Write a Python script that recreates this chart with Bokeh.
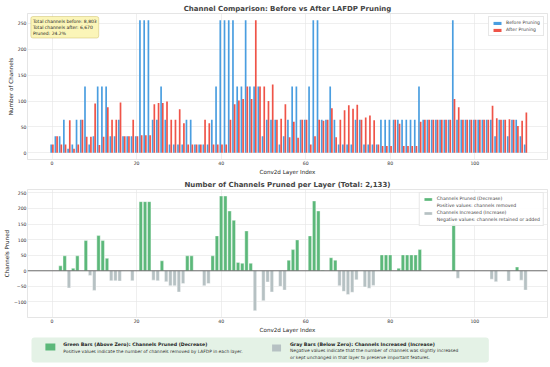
from bokeh.plotting import figure
from bokeh.layouts import column
from bokeh.models import (ColumnDataSource, Legend, LegendItem, Label, Span,
                          BoxAnnotation, FixedTicker, Range1d)
from bokeh.transform import dodge
from bokeh.embed import file_html
from bokeh.resources import INLINE
from bokeh.core.properties import value

# ---------------- data ----------------
layers = list(range(113))
before = [16, 32, 32, 64, 8, 16, 64, 64, 128, 16,
          32, 128, 128, 128, 32, 32, 64, 32, 32, 32,
          32, 256, 256, 256, 64, 64, 128, 64, 16, 16,
          16, 16, 64, 64, 16, 16, 16, 16, 64, 128,
          256, 256, 256, 256, 128, 128, 256, 128, 128, 128,
          32, 64, 64, 64, 16, 32, 64, 128, 128, 64,
          64, 128, 256, 256, 64, 64, 128, 64, 16, 16,
          16, 16, 64, 64, 16, 16, 16, 16, 64, 64,
          64, 64, 64, 64, 64, 64, 64, 128, 64, 64,
          64, 64, 64, 64, 64, 256, 64, 64, 64, 64,
          64, 64, 64, 64, 64, 32, 64, 64, 32, 64,
          64, 32, 16]
after = [16, 32, 16, 16, 63, 8, 16, 64, 31, 31,
         95, 15, 31, 88, 64, 64, 97, 32, 32, 64,
         32, 34, 34, 34, 94, 96, 96, 99, 64, 64,
         84, 57, 16, 16, 16, 16, 64, 57, 16, 16,
         16, 16, 64, 94, 101, 104, 128, 104, 256, 128,
         128, 100, 132, 64, 66, 94, 30, 60, 29, 64,
         64, 16, 32, 64, 62, 64, 86, 30, 64, 82,
         92, 85, 93, 64, 68, 72, 63, 16, 13, 13,
         13, 64, 56, 13, 13, 13, 13, 60, 64, 64,
         64, 64, 64, 64, 64, 104, 88, 64, 64, 64,
         64, 64, 64, 64, 91, 67, 64, 64, 65, 64,
         52, 62, 78]
x_ticks = [0, 20, 40, 60, 80, 100]
top_y_ticks = [0, 50, 100, 150, 200, 250]
bottom_y_ticks = [-100, -50, 0, 50, 100, 150, 200, 250]

summary_text = "Total channels before: 8,803\nTotal channels after: 6,670\nPruned: 24.2%"

pruned = [b - a for b, a in zip(before, after)]

# ---------------- style ----------------
FONT = "DejaVu Sans"
BLUE = "#4a9ee0"
RED = "#ef5448"
GREEN = "#5cb87a"
GRAY = "#b6c1c3"
W = 550


def style(p, xlabel, ylabel, yticks):
    p.title.align = "center"
    p.title.text_font = FONT
    p.title.text_font_size = "7px"
    p.title.text_font_style = "bold"
    p.title.standoff = 2
    p.xaxis.axis_label = xlabel
    p.yaxis.axis_label = ylabel
    p.xaxis.ticker = FixedTicker(ticks=x_ticks)
    p.yaxis.ticker = FixedTicker(ticks=yticks)
    for ax in p.xaxis + p.yaxis:
        ax.major_label_text_font = FONT
        ax.major_label_text_font_size = "4.6px"
        ax.major_label_text_color = "#333333"
        ax.axis_label_text_font = FONT
        ax.axis_label_text_font_size = "5.6px"
        ax.axis_label_text_font_style = "normal"
        ax.axis_label_text_color = "#222222"
        ax.major_tick_out = 0
        ax.major_tick_in = 0
        ax.minor_tick_out = 0
        ax.minor_tick_in = 0
        ax.major_label_standoff = 1
        ax.axis_label_standoff = 1
        ax.axis_line_color = None
    p.outline_line_color = "#d4d4d4"
    p.outline_line_width = 0.6
    p.grid.grid_line_color = "#e4e4e4"
    p.grid.grid_line_width = 0.6


# ---------------- top chart ----------------
p1 = figure(width=W, height=177, x_range=Range1d(-5.8, 117.2),
            y_range=Range1d(-12.8, 268.8), output_backend="svg",
            toolbar_location=None, min_border_left=24, min_border_right=3,
            min_border_top=13, min_border_bottom=14,
            title="Channel Comparison: Before vs After LAFDP Pruning")
style(p1, "Conv2d Layer Index", "Number of Channels", top_y_ticks)

src = ColumnDataSource(dict(layer=layers, before=before, after=after))
rb = p1.vbar(x=dodge("layer", -0.2), top="before", width=0.4, source=src,
             fill_color=BLUE, line_color=None)
rr = p1.vbar(x=dodge("layer", 0.2), top="after", width=0.4, source=src,
             fill_color=RED, line_color=None)

leg1 = Legend(items=[LegendItem(label="Before Pruning", renderers=[rb]),
                     LegendItem(label="After Pruning", renderers=[rr])],
              location="top_right", label_text_font=FONT,
              label_text_font_size="4.6px", glyph_width=10, glyph_height=4,
              label_height=5, spacing=2, padding=3, margin=3,
              label_standoff=4, border_line_color="#d0d0d0",
              border_line_width=0.5, background_fill_alpha=0.9)
p1.add_layout(leg1)

p1.add_layout(Label(x=-5.0, y=263, text=summary_text, anchor="top_left",
                    text_font=FONT, text_font_size="4.5px",
                    text_color="#222222", text_line_height=1.25,
                    background_fill_color="#fbf4b4", background_fill_alpha=0.95,
                    border_line_color="#cdbf6a", border_line_width=0.5,
                    padding=2, border_radius=2))

# ---------------- bottom chart ----------------
p2 = figure(width=W, height=158, x_range=Range1d(-5.8, 117.2),
            y_range=Range1d(-150, 261), output_backend="svg",
            toolbar_location=None, min_border_left=24, min_border_right=3,
            min_border_top=10, min_border_bottom=17,
            title="Number of Channels Pruned per Layer (Total: 2,133)")
style(p2, "Conv2d Layer Index", "Channels Pruned", bottom_y_ticks)

pos_idx = [i for i, d in enumerate(pruned) if d > 0]
neg_idx = [i for i, d in enumerate(pruned) if d < 0]
src_pos = ColumnDataSource(dict(layer=[layers[i] for i in pos_idx],
                                val=[pruned[i] for i in pos_idx]))
src_neg = ColumnDataSource(dict(layer=[layers[i] for i in neg_idx],
                                val=[pruned[i] for i in neg_idx]))
rg = p2.vbar(x="layer", top="val", bottom=0, width=0.8, source=src_pos,
             fill_color=GREEN, line_color="white", line_width=0.4)
rgy = p2.vbar(x="layer", top="val", bottom=0, width=0.8, source=src_neg,
              fill_color=GRAY, line_color="white", line_width=0.4)
p2.add_layout(Span(location=0, dimension="width", line_color="#4a4a4a",
                   line_width=0.8))

blank = p2.vbar(x=[], top=[], width=0.8, fill_alpha=0, line_alpha=0)
leg2 = Legend(items=[LegendItem(label="Channels Pruned (Decrease)", renderers=[rg]),
                     LegendItem(label="Positive values: channels removed", renderers=[blank]),
                     LegendItem(label="Channels Increased (Increase)", renderers=[rgy]),
                     LegendItem(label="Negative values: channels retained or added", renderers=[blank])],
              location="top_right", label_text_font=FONT,
              label_text_font_size="4.6px", glyph_width=10, glyph_height=4,
              label_height=5, spacing=2, padding=3, margin=3,
              label_standoff=4, border_line_color="#d0d0d0",
              border_line_width=0.5, background_fill_alpha=0.9)
p2.add_layout(leg2)

# ---------------- footer explanation ----------------
# footer frame is aligned with the chart frames (left border 24, right 3),
# so its x range is expressed in canvas pixels of that frame
p3 = figure(width=W, height=32, x_range=Range1d(24, W - 3), y_range=Range1d(0, 32),
            output_backend="svg", toolbar_location=None, min_border=0,
            min_border_left=24, min_border_right=3, min_border_top=0,
            min_border_bottom=0, x_axis_location=None, y_axis_location=None)
p3.grid.visible = False
p3.outline_line_color = None
p3.add_layout(BoxAnnotation(left=28, right=488, bottom=5, top=30,
                            fill_color="#e4f2e6", fill_alpha=1,
                            line_color=None, border_radius=3, level="underlay"))
p3.quad(left=[42, 270], right=[52, 279], bottom=[17, 16],
        top=[24, 23], fill_color=[GREEN, GRAY], line_color=None)
p3.text(x=[60, 288], y=[23.3, 23.0],
        text=["Green Bars (Above Zero): Channels Pruned (Decrease)",
              "Gray Bars (Below Zero): Channels Increased (Increase)"],
        text_font=value(FONT), text_font_size="4.7px", text_font_style="bold",
        text_baseline="middle", text_color="#1e1e1e")
p3.text(x=[60, 288, 288], y=[16.4, 17.0, 10.0],
        text=["Positive values indicate the number of channels removed by LAFDP in each layer.",
              "Negative values indicate that the number of channels was slightly increased",
              "or kept unchanged in that layer to preserve important features."],
        text_font=value(FONT), text_font_size="4.4px",
        text_baseline="middle", text_color="#333333")

layout = column(p1, p2, p3)
open("out.html", "w").write(file_html(layout, INLINE))
